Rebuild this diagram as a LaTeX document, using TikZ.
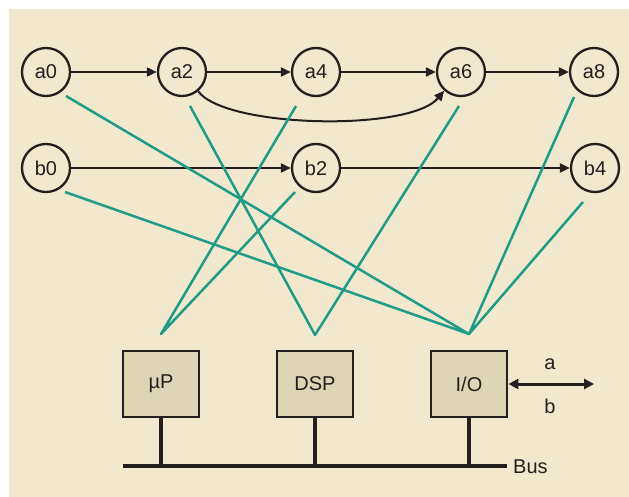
\documentclass[tikz,border=0pt]{standalone}
\usepackage{fontspec}
\setmainfont{Liberation Sans}
\usetikzlibrary{arrows.meta}
\definecolor{panel}{RGB}{242,232,206}
\definecolor{boxfill}{RGB}{222,213,180}
\definecolor{ink}{RGB}{35,31,32}
\definecolor{wire}{RGB}{32,155,135}
\begin{document}
\begin{tikzpicture}[x=1pt,y=-1pt,
  state/.style={circle,draw=ink,line width=2.3pt,minimum size=48pt,inner sep=0pt,
    font=\fontsize{20}{20}\selectfont,text=ink},
  unit/.style={rectangle,draw=ink,fill=boxfill,line width=2.8pt,minimum width=76pt,
    minimum height=66pt,inner sep=0pt,font=\fontsize{20}{20}\selectfont,text=ink},
  flow/.style={draw=ink,line width=2pt,-{Triangle[length=10pt,width=9pt]}},
  link/.style={draw=wire,line width=2.5pt,line join=round},
  stem/.style={draw=ink,line width=4pt},
  lbl/.style={font=\fontsize{20}{20}\selectfont,text=ink,inner sep=0pt}]
\useasboundingbox (0,0) rectangle (629,497);
\fill[white] (0,0) rectangle (629,497);
\fill[panel] (9,9) rectangle (629,497);

% task graph
\node[state] (a0) at (46,72) {a0};
\node[state] (a2) at (182,72) {a2};
\node[state] (a4) at (316,72) {a4};
\node[state] (a6) at (461,72) {a6};
\node[state] (a8) at (594,72) {a8};
\node[state] (b0) at (46,168) {b0};
\node[state] (b2) at (316,168) {b2};
\node[state] (b4) at (595,168) {b4};

\draw[flow] (a0) -- (a2);
\draw[flow] (a2) -- (a4);
\draw[flow] (a4) -- (a6);
\draw[flow] (a6) -- (a8);
\draw[flow] (b0) -- (b2);
\draw[flow] (b2) -- (b4);
\draw[flow] (a2.-50) .. controls (225,128) and (410,132) .. (a6.-132);

% processing units
\node[unit] (up) at (161,384) {µP};
\node[unit] (dsp) at (315,384) {DSP};
\node[unit] (io) at (469,384) {I/O};

% mapping wires: start points under the tasks, apex above each unit
\coordinate (a0g) at (66,96);
\coordinate (a2g) at (190,106);
\coordinate (a4g) at (296,106);
\coordinate (a6g) at (459,106);
\coordinate (a8g) at (574,97);
\coordinate (b0g) at (65,192);
\coordinate (b2g) at (295,192);
\coordinate (b4g) at (583,202);
\coordinate (upA) at (161,334);
\coordinate (dspA) at (315,335);
\coordinate (ioA) at (469,334);

\draw[link] (a4g) -- (upA) -- (b2g);
\draw[link] (a2g) -- (dspA) -- (a6g);
\draw[link] (a0g) -- (ioA) -- (b0g);
\draw[link] (a8g) -- (ioA) -- (b4g);

% bus
\coordinate (busL) at (123,466);
\coordinate (busR) at (507,466);
\draw[draw=ink,line width=4.5pt] (busL) -- (busR);
\coordinate (upB) at (161,466);
\coordinate (dspB) at (315,466);
\coordinate (ioB) at (469,466);
\draw[stem] (up.south) -- (upB);
\draw[stem] (dsp.south) -- (dspB);
\draw[stem] (io.south) -- (ioB);
\node[lbl,anchor=west] (bus) at (513,467) {Bus};

% external port
\coordinate (port) at (594,384);
\draw[draw=ink,line width=3pt,{Triangle[length=10pt,width=10pt]}-{Triangle[length=10pt,width=10pt]}] (io.east) -- (port);
\node[lbl] (pa) at (550,364) {a};
\node[lbl] (pb) at (550,406) {b};
\end{tikzpicture}
\end{document}
